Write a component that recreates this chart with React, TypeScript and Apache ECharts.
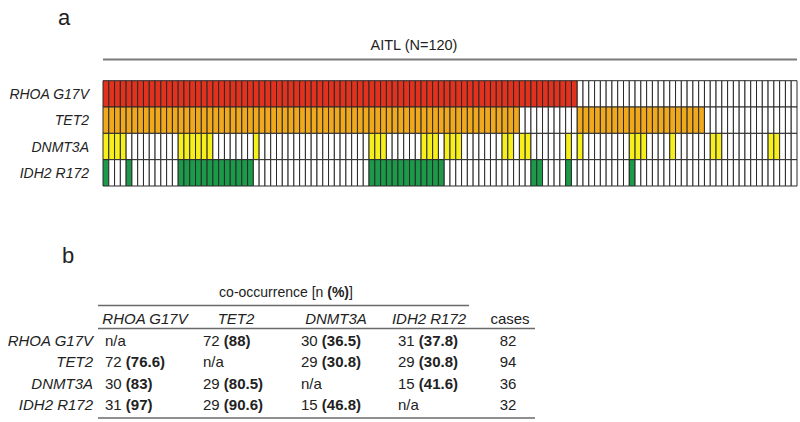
import React, { useEffect, useRef } from 'react';
import * as echarts from 'echarts';

// ---------- data ----------
const genes = ['RHOA G17V', 'TET2', 'DNMT3A', 'IDH2 R172'];
const geneColors = ['#e2311d', '#f0a81c', '#f6ef1c', '#1b9a4a'];
const totalCases = 120;

// one character per patient (1 = mutated), grouped by 10 patients
const rhoaRow   = '1111111111 1111111111 1111111111 1111111111 1111111111 1111111111 1111111111 1111111111 1100000000 0000000000 0000000000 0000000000';
const tet2Row   = '1111111111 1111111111 1111111111 1111111111 1111111111 1111111111 1111111111 1100000000 0011111111 1111111111 1111000000 0000000000';
const dnmt3aRow = '1111000000 0001111110 0000001000 0000000000 0000001110 0000011101 1100000001 1011000000 1010000000 0111000010 0000011000 0000011000';
const idh2Row   = '1000100000 0001111111 1111110000 0000000000 0000001111 1111111110 0000000000 0000110000 1000000000 0100000000 0000000000 0000000000';
const mutationRows = [rhoaRow, tet2Row, dnmt3aRow, idh2Row];

// co-occurrence table
const tableHeaders = ['RHOA G17V', 'TET2', 'DNMT3A', 'IDH2 R172'];
const coN: (number | null)[][] = [
  [null, 72, 30, 31],
  [72, null, 29, 29],
  [30, 29, null, 15],
  [31, 29, 15, null],
];
const coPct: (string | null)[][] = [
  [null, '88', '36.5', '37.8'],
  ['76.6', null, '30.8', '30.8'],
  ['83', '80.5', null, '41.6'],
  ['97', '90.6', '46.8', null],
];
const cases = [82, 94, 36, 32];

// ---------- layout ----------
const FONT = '"Liberation Sans", Arial, Helvetica, sans-serif';

export default function App() {
  const ref = useRef<HTMLDivElement>(null);
  useEffect(() => {
    if (!ref.current) return;
    const chart = echarts.init(ref.current, null, { renderer: 'svg' });

    const cells: number[][] = [];
    mutationRows.forEach((row, r) => {
      const s = row.replace(/\s/g, '');
      for (let c = 0; c < totalCases; c++) cells.push([c, r, s[c] === '1' ? 1 : 0]);
    });
    const patients = Array.from({ length: totalCases }, (_, i) => String(i + 1));

    const txt = (text: string, x: number, y: number, opts: any = {}) => ({
      type: 'text',
      x,
      y,
      style: {
        text,
        fill: '#222',
        fontFamily: FONT,
        fontSize: 15,
        align: opts.align || 'left',
        textAlign: opts.align || 'left',
        verticalAlign: 'middle',
        textVerticalAlign: 'middle',
        fontStyle: opts.italic ? 'italic' : 'normal',
        fontWeight: opts.bold ? 'bold' : 'normal',
        ...(opts.size ? { fontSize: opts.size } : {}),
        rich: {
          b: { fontWeight: 'bold', fontFamily: FONT, fontSize: opts.size || 15, fill: '#222' },
        },
      },
    });
    const hline = (x1: number, x2: number, y: number, w = 1.5, color = '#6a6a6a') => ({
      type: 'line',
      shape: { x1, y1: y, x2, y2: y },
      style: { stroke: color, lineWidth: w },
    });

    const graphics: any[] = [];
    graphics.push(txt('a', 58, 17, { size: 22 }));
    graphics.push(txt('AITL (N=120)', 414, 45, { size: 14.5, align: 'center' }));
    graphics.push(hline(103, 797, 59.5, 2, '#7a7a7a'));

    graphics.push(txt('b', 62, 255, { size: 22 }));
    graphics.push(
      txt('co-occurrence [n {b|(%)}]', 286, 292, { size: 14, align: 'center' })
    );
    graphics.push(hline(98, 469, 305.5));
    const headerX = [145, 236, 336, 429];
    tableHeaders.forEach((h, i) => graphics.push(txt(h, headerX[i], 318, { italic: true, align: 'center' })));
    graphics.push(txt('cases', 510, 318, { align: 'center' }));
    graphics.push(hline(98, 535, 328.5));

    const rowY = [340, 361.5, 383, 404.5];
    const colX = [105, 203, 301, 398];
    genes.forEach((g, r) => {
      graphics.push(txt(g, 93, rowY[r], { italic: true, align: 'right' }));
      for (let c = 0; c < 4; c++) {
        const n = coN[r][c];
        const p = coPct[r][c];
        const t = n === null ? 'n/a' : `${n} {b|(${p})}`;
        graphics.push(txt(t, colX[c], rowY[r]));
      }
      graphics.push(txt(String(cases[r]), 508, rowY[r], { align: 'center' }));
    });
    graphics.push(hline(98, 535, 418));

    chart.setOption({
      animation: false,
      backgroundColor: '#ffffff',
      grid: { left: 103, top: 80.7, width: 694, height: 105.3, containLabel: false },
      xAxis: {
        type: 'category',
        data: patients,
        show: false,
      },
      yAxis: {
        type: 'category',
        data: genes,
        inverse: true,
        axisLine: { show: false },
        axisTick: { show: false },
        splitLine: { show: false },
        axisLabel: {
          fontStyle: 'italic',
          fontFamily: FONT,
          fontSize: 14,
          color: '#222',
          margin: 14,
        },
      },
      series: [
        {
          type: 'custom',
          data: cells,
          encode: { x: 0, y: 1 },
          renderItem: (params: any, api: any) => {
            const c = api.value(0);
            const r = api.value(1);
            const v = api.value(2);
            const pt = api.coord([c, r]);
            const size = api.size([1, 1]);
            return {
              type: 'rect',
              shape: { x: pt[0] - size[0] / 2, y: pt[1] - size[1] / 2, width: size[0], height: size[1] },
              style: { fill: v ? geneColors[r] : '#ffffff', stroke: '#2a2a2a', lineWidth: 1 },
            };
          },
        },
      ],
      graphic: graphics,
    });
    return () => chart.dispose();
  }, []);
  return <div ref={ref} style={{ position: 'absolute', left: 0, top: 0, width: 800, height: 422 }} />;
}
